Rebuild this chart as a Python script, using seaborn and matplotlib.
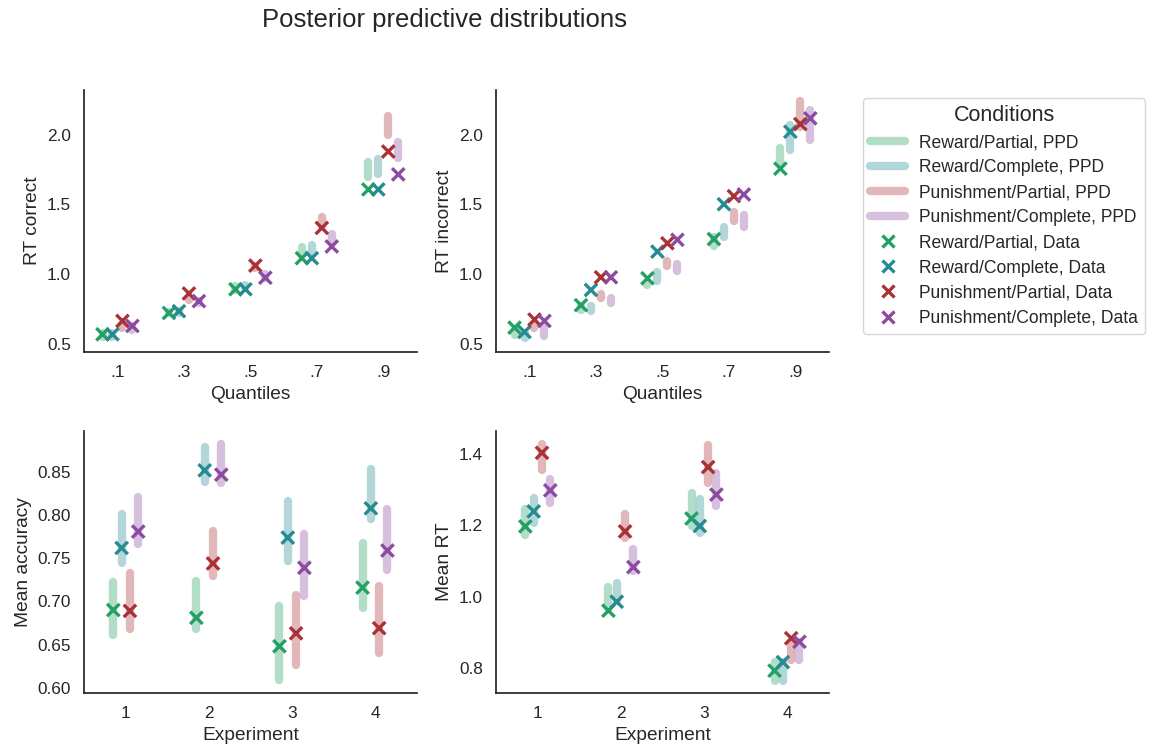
import numpy as np
import pandas as pd
import matplotlib.pyplot as plt
import seaborn as sns
from matplotlib.lines import Line2D

# conditions, in plotting order
conditions = ["Reward/Partial", "Reward/Complete", "Punishment/Partial", "Punishment/Complete"]
colors = ["#23a064", "#268c91", "#aa3237", "#8c4ba0"]

quantiles = [0.1, 0.3, 0.5, 0.7, 0.9]
quantile_labels = [".1", ".3", ".5", ".7", ".9"]
experiments = [1, 2, 3, 4]

# RT correct: observed quantiles and PPD intervals (low, high)
rt_correct_data = [
    [0.567, 0.720, 0.890, 1.113, 1.606],
    [0.567, 0.733, 0.890, 1.113, 1.606],
    [0.663, 0.860, 1.060, 1.330, 1.878],
    [0.627, 0.805, 0.973, 1.197, 1.714],
]
rt_correct_lo = [
    [0.550, 0.718, 0.885, 1.140, 1.695],
    [0.550, 0.720, 0.900, 1.154, 1.720],
    [0.610, 0.815, 1.040, 1.346, 1.999],
    [0.600, 0.794, 0.973, 1.226, 1.832],
]
rt_correct_hi = [
    [0.575, 0.728, 0.915, 1.190, 1.806],
    [0.575, 0.736, 0.923, 1.204, 1.822],
    [0.640, 0.830, 1.060, 1.410, 2.135],
    [0.630, 0.807, 1.000, 1.288, 1.943],
]

# RT incorrect
rt_incorrect_data = [
    [0.615, 0.776, 0.969, 1.250, 1.755],
    [0.584, 0.885, 1.160, 1.500, 2.020],
    [0.673, 0.976, 1.220, 1.558, 2.075],
    [0.663, 0.976, 1.245, 1.570, 2.116],
]
rt_incorrect_lo = [
    [0.565, 0.745, 0.920, 1.202, 1.792],
    [0.541, 0.733, 0.950, 1.262, 1.888],
    [0.613, 0.829, 1.058, 1.383, 2.056],
    [0.553, 0.793, 1.022, 1.334, 1.960],
]
rt_incorrect_hi = [
    [0.603, 0.771, 0.935, 1.265, 1.902],
    [0.579, 0.771, 1.012, 1.337, 2.070],
    [0.639, 0.856, 1.096, 1.445, 2.239],
    [0.627, 0.831, 1.072, 1.421, 2.178],
]

# Mean accuracy per experiment
acc_data = [
    [0.690, 0.681, 0.648, 0.716],
    [0.762, 0.852, 0.774, 0.808],
    [0.689, 0.744, 0.663, 0.669],
    [0.781, 0.847, 0.739, 0.759],
]
acc_lo = [
    [0.661, 0.668, 0.609, 0.692],
    [0.744, 0.839, 0.747, 0.795],
    [0.668, 0.729, 0.626, 0.640],
    [0.767, 0.837, 0.706, 0.736],
]
acc_hi = [
    [0.722, 0.724, 0.695, 0.768],
    [0.801, 0.879, 0.816, 0.853],
    [0.733, 0.782, 0.708, 0.718],
    [0.821, 0.882, 0.778, 0.807],
]

# Mean RT per experiment
mrt_data = [
    [1.197, 0.961, 1.219, 0.793],
    [1.239, 0.986, 1.198, 0.817],
    [1.403, 1.183, 1.363, 0.884],
    [1.298, 1.083, 1.286, 0.874],
]
mrt_lo = [
    [1.174, 0.969, 1.197, 0.764],
    [1.206, 0.988, 1.178, 0.764],
    [1.355, 1.164, 1.318, 0.822],
    [1.262, 1.071, 1.253, 0.822],
]
mrt_hi = [
    [1.245, 1.026, 1.291, 0.817],
    [1.277, 1.038, 1.273, 0.817],
    [1.429, 1.231, 1.426, 0.873],
    [1.330, 1.133, 1.347, 0.873],
]

sns.set_theme(style="white")
plt.rcParams["font.family"] = ["Liberation Sans", "DejaVu Sans"]


def draw_panel(ax, xbase, offsets, data, lo, hi):
    rows = []
    for k, cond in enumerate(conditions):
        xs = np.array(xbase, dtype=float) + offsets[k]
        ax.vlines(xs, lo[k], hi[k], colors=colors[k], linewidth=6, alpha=0.35,
                  capstyle="round")
        for x, y in zip(xs, data[k]):
            rows.append({"x": x, "y": y, "cond": cond})
    df = pd.DataFrame(rows)
    sns.scatterplot(data=df, x="x", y="y", hue="cond", hue_order=conditions,
                    palette=colors, marker="x", s=80, linewidth=2.4, legend=False,
                    ax=ax, zorder=3)


fig, axes = plt.subplots(2, 2, figsize=(11.54, 7.49), dpi=100)
fig.subplots_adjust(left=0.073, right=0.718, bottom=0.075, top=0.88, wspace=0.24, hspace=0.3)

q_off = [-0.045, -0.015, 0.015, 0.045]
e_off = [-0.15, -0.05, 0.05, 0.15]

draw_panel(axes[0, 0], quantiles, q_off, rt_correct_data, rt_correct_lo, rt_correct_hi)
draw_panel(axes[0, 1], quantiles, q_off, rt_incorrect_data, rt_incorrect_lo, rt_incorrect_hi)
draw_panel(axes[1, 0], experiments, e_off, acc_data, acc_lo, acc_hi)
draw_panel(axes[1, 1], experiments, e_off, mrt_data, mrt_lo, mrt_hi)

for ax, ylab in zip(axes[0], ["RT correct", "RT incorrect"]):
    ax.set_xlim(0.0, 1.0)
    ax.set_ylim(0.44, 2.32)
    ax.set_xticks(quantiles)
    ax.set_xticklabels(quantile_labels)
    ax.set_yticks([0.5, 1.0, 1.5, 2.0])
    ax.set_xlabel("Quantiles", fontsize=13.8)
    ax.set_ylabel(ylab, fontsize=13.8)

axes[1, 0].set_ylim(0.594, 0.898)
axes[1, 0].set_yticks([0.60, 0.65, 0.70, 0.75, 0.80, 0.85])
axes[1, 0].set_yticklabels(["0.60", "0.65", "0.70", "0.75", "0.80", "0.85"])
axes[1, 0].set_ylabel("Mean accuracy", fontsize=13.8)
axes[1, 1].set_ylim(0.731, 1.465)
axes[1, 1].set_yticks([0.8, 1.0, 1.2, 1.4])
axes[1, 1].set_ylabel("Mean RT", fontsize=13.8)
for ax in axes[1]:
    ax.set_xlim(0.5, 4.5)
    ax.set_xticks(experiments)
    ax.set_xlabel("Experiment", fontsize=13.8)

for ax in axes.flat:
    ax.tick_params(labelsize=12.4)
    sns.despine(ax=ax)

handles = []
labels = []
for k, cond in enumerate(conditions):
    handles.append(Line2D([], [], color=colors[k], linewidth=6, alpha=0.35,
                          solid_capstyle="round"))
    labels.append(f"{cond}, PPD")
for k, cond in enumerate(conditions):
    handles.append(Line2D([], [], color=colors[k], marker="x", linestyle="",
                          markersize=8.5, markeredgewidth=2.4))
    labels.append(f"{cond}, Data")

leg = fig.legend(handles, labels, title="Conditions", loc="upper left",
                 bbox_to_anchor=(863 / 1154, 1 - 98 / 749), borderaxespad=0,
                 fontsize=12.65, title_fontsize=15.5, labelspacing=0.46)

fig.suptitle("Posterior predictive distributions", x=0.385, y=0.973, va="center",
             fontsize=18.5)

plt.savefig("out.png", dpi=100)
